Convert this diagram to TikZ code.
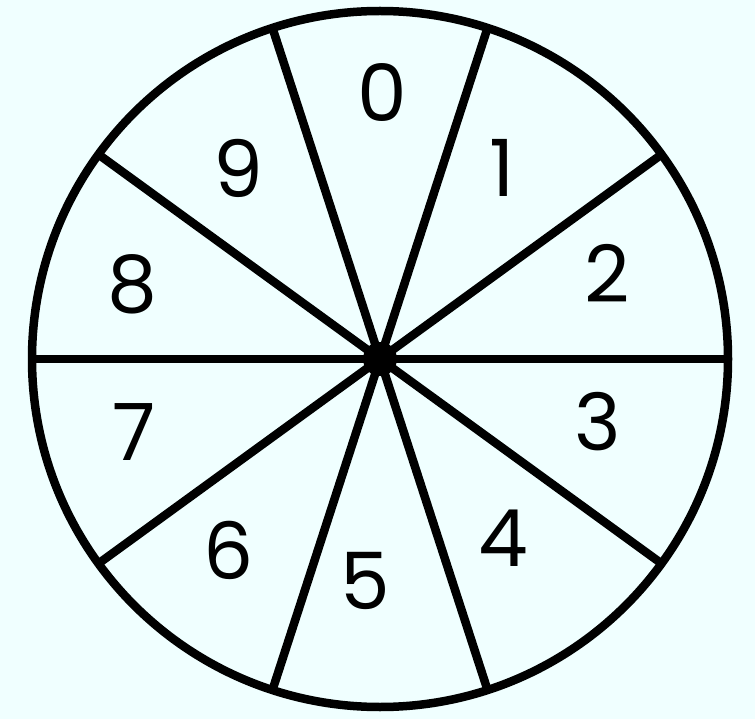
\documentclass[tikz,border=0pt]{standalone}
\usepackage{fontspec}
\setmainfont{Poppins}
\definecolor{bg}{RGB}{240,255,255}
\begin{document}
\begin{tikzpicture}[x=1pt,y=-1pt,
  wheelline/.style={line width=8.5pt,black},
  digit/.style={inner sep=0pt,font=\fontsize{79}{79}\selectfont}]
\fill[bg] (0,0) rectangle (755,719);
\useasboundingbox (0,0) rectangle (755,719);
\node[circle,draw,line width=8.5pt,minimum size=696pt,inner sep=0pt,outer sep=0pt] (wheel) at (380,359) {};
\coordinate (c) at (380,359);
\foreach \a in {0,36,...,324}{
  \draw[wheelline] (c) -- (wheel.\a);
}
\fill[black] (c) circle[radius=17pt];
\node[digit] (d0) at (382,93) {0};
\node[digit] (d1) at (502,168) {1};
\node[digit] (d2) at (607,273) {2};
\node[digit] (d3) at (598,422) {3};
\node[digit] (d4) at (503,538) {4};
\node[digit] (d5) at (365,581) {5};
\node[digit] (d6) at (229,550) {6};
\node[digit] (d7) at (134,432) {7};
\node[digit] (d8) at (132,284) {8};
\node[digit] (d9) at (238,168) {9};
\end{tikzpicture}
\end{document}
